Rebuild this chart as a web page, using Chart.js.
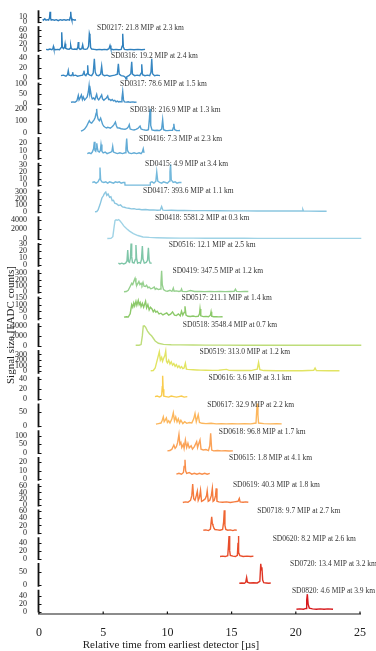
<!DOCTYPE html>
<html>
<head>
<meta charset="utf-8">
<script src="https://cdn.jsdelivr.net/npm/chart.js@4.4.1/dist/chart.umd.min.js"></script>
<style>
  html, body { margin: 0; padding: 0; background: #fff; }
  #wrap { position: relative; width: 376px; height: 651px; }
</style>
</head>
<body>
<div id="wrap"><canvas id="c"></canvas></div>
<script>
// FADC waveforms, one per detector, as [time in µs, signal in FADC counts]
const trace01 = [[0.29,5],[0.35,3],[0.45,6],[0.55,3],[0.65,4],[0.75,3],[0.82,8],[0.86,20],[0.9,7],[0.95,3],[1.05,4],[1.2,3],[1.35,4],[1.5,2],[1.65,4],[1.8,3],[1.95,4],[2.1,3],[2.25,4],[2.38,3],[2.43,9],[2.47,20],[2.51,8],[2.56,3],[2.7,4],[2.8,3],[2.88,4]];
const sd0217 = [[0.55,3],[0.7,2],[0.85,4],[1.0,2],[1.08,5],[1.12,11],[1.16,4],[1.3,2],[1.45,3],[1.6,2],[1.72,8],[1.77,52],[1.82,10],[1.9,5],[1.98,8],[2.03,19],[2.08,6],[2.2,4],[2.35,3],[2.43,6],[2.47,14],[2.52,5],[2.65,3],[2.8,4],[2.95,3],[3.02,9],[3.06,24],[3.1,7],[3.2,3],[3.33,5],[3.4,16],[3.46,4],[3.6,3],[3.75,4],[3.86,12],[3.92,48],[3.97,40],[4.02,8],[4.1,4],[4.3,3],[4.5,2],[4.7,3],[4.9,2],[5.1,3],[5.3,2],[5.45,5],[5.53,14],[5.6,4],[5.8,2],[6.0,3],[6.2,2],[6.4,3],[6.47,12],[6.52,48],[6.57,10],[6.65,3],[6.9,2],[7.1,3],[7.4,2],[7.7,3],[8.0,2],[8.26,3]];
const sd0316 = [[1.71,5],[1.9,6],[2.1,4],[2.22,7],[2.28,15],[2.34,6],[2.5,5],[2.58,7],[2.62,12],[2.67,5],[2.85,6],[3.0,4],[3.2,5],[3.4,6],[3.46,10],[3.5,15],[3.55,7],[3.65,5],[3.74,9],[3.79,26],[3.84,8],[3.95,6],[4.1,5],[4.22,10],[4.31,39],[4.38,12],[4.48,6],[4.65,5],[4.8,8],[4.88,24],[4.95,7],[5.1,5],[5.3,6],[5.5,4],[5.7,5],[5.9,6],[6.1,8],[6.18,29],[6.25,8],[6.4,5],[6.6,4],[6.72,2],[6.78,-2],[6.84,3],[7.0,5],[7.15,9],[7.22,33],[7.28,8],[7.45,5],[7.65,6],[7.85,5],[7.95,10],[8.0,28],[8.06,7],[8.25,5],[8.45,6],[8.62,5],[8.72,12],[8.78,39],[8.84,9],[9.0,5],[9.2,6],[9.42,5]];
const sd0317 = [[2.49,8],[2.65,10],[2.8,8],[2.95,15],[3.06,42],[3.12,20],[3.2,30],[3.3,45],[3.38,22],[3.45,35],[3.55,20],[3.66,28],[3.75,35],[3.84,60],[3.9,92],[3.95,55],[4.0,70],[4.08,38],[4.15,25],[4.25,30],[4.35,22],[4.42,35],[4.49,48],[4.56,27],[4.65,20],[4.75,30],[4.82,38],[4.88,45],[4.95,25],[5.05,18],[5.15,25],[5.25,30],[5.35,40],[5.42,22],[5.5,23],[5.6,17],[5.7,22],[5.8,15],[5.9,18],[6.0,10],[6.1,14],[6.2,10],[6.3,12],[6.4,10],[6.46,30],[6.52,62],[6.58,20],[6.65,10],[6.8,9],[6.95,11],[7.1,8],[7.3,10],[7.45,8],[7.6,9]];
const sd0318 = [[3.27,12],[3.4,18],[3.55,30],[3.7,52],[3.8,75],[3.92,100],[4.0,85],[4.1,80],[4.2,95],[4.3,110],[4.38,130],[4.45,164],[4.49,200],[4.53,150],[4.6,115],[4.7,100],[4.8,122],[4.88,95],[4.95,70],[5.05,53],[5.15,45],[5.25,39],[5.35,45],[5.45,42],[5.55,38],[5.65,45],[5.75,55],[5.85,70],[5.95,89],[6.02,60],[6.1,40],[6.25,39],[6.4,33],[6.55,30],[6.7,28],[6.85,35],[6.97,50],[7.03,67],[7.1,30],[7.25,25],[7.4,22],[7.55,28],[7.7,35],[7.87,55],[7.95,30],[8.1,25],[8.25,22],[8.4,20],[8.52,25],[8.6,120],[8.65,200],[8.7,60],[8.8,22],[9.0,18],[9.2,20],[9.4,17],[9.55,30],[9.63,108],[9.7,25],[9.85,18],[10.0,17],[10.2,19],[10.4,20],[10.45,40],[10.5,75],[10.56,25],[10.7,18],[10.85,17],[10.98,18]];
const sd0416 = [[3.76,6],[3.9,7],[4.05,6],[4.15,8],[4.25,12],[4.31,21],[4.36,10],[4.42,9],[4.46,12],[4.5,19],[4.55,13],[4.6,9],[4.7,8],[4.78,10],[4.83,17.5],[4.9,9],[5.0,7],[5.15,8],[5.3,6],[5.45,7],[5.6,8],[5.68,9],[5.74,15],[5.8,8],[5.95,7],[6.1,6],[6.3,7],[6.5,6],[6.7,7],[6.77,12],[6.83,25],[6.89,10],[7.0,7],[7.2,6],[7.4,7],[7.6,6],[7.8,7],[7.95,6],[8.05,8],[8.12,12],[8.18,7]];
const sd0415 = [[4.15,4],[4.3,5],[4.45,3],[4.6,5],[4.7,9],[4.75,26.5],[4.8,8],[4.9,5],[5.05,4],[5.2,5],[5.35,3],[5.5,5],[5.65,4],[5.8,3],[5.95,5],[6.1,4],[6.25,5],[6.4,3],[6.55,4],[6.68,4],[6.7,0],[7.0,0],[7.5,0],[8.0,0],[8.5,0],[8.65,0],[8.67,4],[8.8,5],[8.95,3],[9.1,6],[9.17,20],[9.25,6],[9.4,4],[9.55,3],[9.7,5],[9.85,4],[10.0,3],[10.15,6],[10.2,20],[10.25,31.5],[10.3,8],[10.45,4],[10.6,5],[10.75,3],[10.9,4],[11.1,4]];
const sd0417 = [[4.36,2],[4.5,5],[4.6,30],[4.75,110],[4.9,210],[5.0,240],[5.1,280],[5.2,300],[5.28,250],[5.38,270],[5.5,220],[5.6,230],[5.7,170],[5.8,175],[5.9,130],[6.05,120],[6.2,95],[6.35,105],[6.5,75],[6.65,70],[6.8,60],[7.0,55],[7.2,45],[7.4,48],[7.6,38],[7.8,40],[8.0,33],[8.3,35],[8.6,28],[8.9,30],[9.2,25],[9.45,28],[9.55,80],[9.65,25],[9.9,22],[10.3,24],[10.8,20],[11.3,22],[12,18],[13,18],[14,16],[15,15],[16,15],[17,14],[18,13],[19,12],[20,12],[20.5,12],[20.55,35],[20.6,12],[21.0,11],[22.0,10],[22.4,10]];
const sd0418 = [[5.32,20],[5.6,40],[5.75,400],[5.85,2500],[5.92,3800],[6.0,4000],[6.1,3900],[6.2,4050],[6.3,3800],[6.45,3300],[6.6,2700],[6.83,2100],[7.05,1600],[7.35,1050],[7.7,650],[8.1,350],[8.6,250],[9.2,180],[10,130],[11,110],[12,90],[13,80],[14,70],[15,65],[16,60],[17,55],[18,55],[19,50],[20,50],[22,45],[24,45],[25.1,45]];
const sd0516 = [[6.18,3],[6.3,2],[6.45,3],[6.6,2],[6.75,3],[6.85,6],[6.91,21],[6.97,5],[7.05,4],[7.12,10],[7.17,30],[7.22,12],[7.28,4],[7.4,3],[7.5,8],[7.55,28],[7.6,10],[7.68,3],[7.8,4],[7.9,3],[7.98,8],[8.05,26.5],[8.1,9],[8.2,3],[8.35,4],[8.45,7],[8.52,24],[8.58,7],[8.65,3],[8.78,3]];
const sd0419 = [[6.62,5],[6.8,10],[6.95,30],[7.1,90],[7.22,140],[7.3,120],[7.4,180],[7.48,220],[7.55,150],[7.62,110],[7.7,140],[7.78,170],[7.86,120],[7.95,140],[8.02,110],[8.1,155],[8.18,95],[8.28,90],[8.38,110],[8.48,70],[8.58,80],[8.7,55],[8.8,60],[8.9,70],[8.98,80],[9.05,45],[9.15,60],[9.3,40],[9.45,50],[9.5,150],[9.55,340],[9.6,120],[9.7,40],[9.85,20],[10.0,15],[10.2,30],[10.35,12],[10.4,30],[10.46,63],[10.52,15],[10.7,20],[10.9,10],[11.05,20],[11.1,47],[11.16,12],[11.5,8],[11.8,25],[12.1,10],[12.5,12],[12.9,8],[13.3,10],[13.7,8],[14.1,10],[14.5,8],[14.9,10],[15.2,12],[15.3,45],[15.38,12],[15.7,8],[16.0,10],[16.3,9]];
const sd0517 = [[6.62,5],[6.8,8],[6.95,6],[7.1,30],[7.22,100],[7.3,80],[7.38,112],[7.45,90],[7.55,125],[7.62,95],[7.73,132],[7.8,100],[7.88,115],[7.95,85],[8.05,110],[8.15,80],[8.3,125],[8.38,75],[8.48,100],[8.58,60],[8.68,80],[8.8,67],[8.9,45],[9.0,60],[9.1,42],[9.2,50],[9.35,30],[9.5,35],[9.65,22],[9.8,30],[9.95,37],[10.1,20],[10.25,28],[10.4,45],[10.55,20],[10.7,18],[10.85,30],[11.0,15],[11.1,50],[11.2,20],[11.3,40],[11.37,87],[11.45,20],[11.6,12],[11.8,10],[12.0,14],[12.2,9],[12.4,12],[12.5,30],[12.54,67],[12.6,15],[12.8,9],[13.0,11],[13.2,8],[13.35,20],[13.4,45],[13.45,12],[13.6,8],[13.8,9],[14.0,7],[14.3,8]];
const sd0518 = [[7.53,50],[7.8,60],[7.95,200],[8.05,2000],[8.12,3930],[8.2,4000],[8.3,3700],[8.45,2930],[8.6,2400],[8.78,1930],[9.05,930],[9.3,470],[9.7,250],[10.3,170],[11,150],[12,120],[13,100],[14,90],[16,80],[18,75],[20,70],[22,70],[25.1,65]];
const sd0519 = [[8.7,10],[8.9,15],[9.05,60],[9.16,160],[9.25,240],[9.37,348],[9.45,200],[9.55,250],[9.62,180],[9.7,230],[9.8,280],[9.87,360],[9.93,180],[10.0,150],[10.1,200],[10.2,130],[10.3,170],[10.4,110],[10.5,140],[10.6,90],[10.7,120],[10.8,70],[10.9,100],[11.0,60],[11.1,85],[11.2,50],[11.3,60],[11.4,146],[11.48,40],[11.6,35],[11.8,30],[12.0,28],[12.3,25],[12.6,22],[13,20],[13.5,18],[14,20],[14.6,35],[14.8,18],[15.5,15],[16.5,14],[17.0,40],[17.1,160],[17.2,30],[17.5,14],[18.5,12],[19.5,12],[20.5,11],[21.4,20],[21.5,60],[21.6,15],[22.5,10],[23.4,10]];
const sd0616 = [[9.03,5],[9.2,6],[9.4,4],[9.55,7],[9.6,25],[9.63,47],[9.67,20],[9.72,6],[9.9,5],[10.1,4],[10.3,6],[10.5,5],[10.7,4],[10.9,5],[11.1,6],[11.3,4],[11.55,5]];
const sd0617 = [[9.11,6],[9.3,8],[9.5,10],[9.6,20],[9.68,32],[9.75,15],[9.85,22],[9.92,28],[10.0,12],[10.1,18],[10.2,10],[10.35,25],[10.46,47],[10.55,18],[10.65,32],[10.75,14],[10.85,25],[10.95,10],[11.05,20],[11.2,8],[11.35,15],[11.5,9],[11.7,12],[11.9,10],[12.05,25],[12.15,44],[12.25,15],[12.4,40],[12.5,12],[12.7,9],[13,8],[13.4,9],[13.8,7],[14.2,8],[14.6,7],[15,8],[15.5,7],[16,8],[16.5,7],[16.9,10],[16.95,50],[17.0,80],[17.05,40],[17.1,10],[17.5,8],[18,7],[18.5,8],[18.9,7]];
const sd0618 = [[10.0,10],[10.2,12],[10.35,20],[10.5,45],[10.6,25],[10.7,35],[10.8,60],[10.9,108],[10.97,50],[11.05,60],[11.12,30],[11.24,49],[11.3,25],[11.4,75],[11.5,30],[11.6,55],[11.7,28],[11.85,40],[11.95,20],[12.1,35],[12.28,65],[12.35,30],[12.45,55],[12.54,75],[12.62,20],[12.8,15],[13.0,18],[13.2,12],[13.3,40],[13.37,114],[13.45,15],[13.6,10],[13.9,12],[14.2,10],[14.5,11],[14.8,9],[15.1,10]];
const sd0615 = [[10.7,6],[10.9,7],[11.1,6],[11.25,8],[11.3,15],[11.37,23],[11.42,10],[11.5,7],[11.7,8],[11.9,6],[12.1,7],[12.3,6],[12.5,7],[12.7,6],[12.9,7],[13.1,6],[13.3,7]];
const sd0619 = [[11.2,8],[11.4,10],[11.6,9],[11.8,15],[11.9,30],[11.97,67],[12.05,20],[12.15,15],[12.25,30],[12.33,44],[12.4,15],[12.5,25],[12.58,47],[12.66,12],[12.8,15],[12.95,20],[13.05,30],[13.1,45],[13.18,12],[13.3,15],[13.42,30],[13.5,53],[13.56,12],[13.65,15],[13.75,30],[13.8,53],[13.86,12],[14.0,10],[14.3,9],[14.6,10],[14.9,8],[15.2,10],[15.5,12],[15.6,21],[15.66,10],[15.9,9],[16.1,10],[16.3,9]];
const sd0718 = [[12.8,7],[13.0,8],[13.2,6],[13.35,10],[13.45,44],[13.5,25],[13.55,20],[13.6,15],[13.7,9],[13.9,8],[14.1,7],[14.3,9],[14.38,30],[14.43,62],[14.48,20],[14.55,9],[14.7,7],[14.9,8],[15.1,6],[15.25,8],[15.4,7]];
const sd0620 = [[14.1,5],[14.3,6],[14.5,5],[14.7,7],[14.75,30],[14.8,57],[14.85,20],[14.9,8],[15.1,6],[15.3,5],[15.45,8],[15.5,40],[15.52,57],[15.57,15],[15.65,7],[15.9,5],[16.2,6],[16.5,5],[16.7,6]];
const sd0720 = [[15.6,8],[15.8,9],[16.0,8],[16.1,12],[16.17,30],[16.23,12],[16.4,9],[16.7,10],[17.0,9],[17.2,15],[17.27,83],[17.32,60],[17.36,70],[17.42,20],[17.5,10],[17.7,9],[17.9,8],[18.05,9]];
const sd0820 = [[20.05,7],[20.3,8],[20.6,7],[20.8,9],[20.85,30],[20.9,45],[20.96,20],[21.05,10],[21.3,8],[21.6,7],[21.9,8],[22.2,7],[22.5,8],[22.9,7]];

// panels from top to bottom
const traces = [trace01, sd0217, sd0316, sd0317, sd0318, sd0416, sd0415, sd0417, sd0418, sd0516, sd0419,
  sd0517, sd0518, sd0519, sd0616, sd0617, sd0618, sd0615, sd0619, sd0718, sd0620, sd0720, sd0820];
const detectorNames = [null, 'SD0217', 'SD0316', 'SD0317', 'SD0318', 'SD0416', 'SD0415', 'SD0417', 'SD0418', 'SD0516', 'SD0419',
  'SD0517', 'SD0518', 'SD0519', 'SD0616', 'SD0617', 'SD0618', 'SD0615', 'SD0619', 'SD0718', 'SD0620', 'SD0720', 'SD0820'];
const mipValues = [null, 21.8, 19.2, 78.6, 216.9, 7.3, 4.9, 393.6, 5581.2, 12.1, 347.5,
  211.1, 3548.4, 313.0, 3.6, 32.9, 96.8, 1.8, 40.3, 9.7, 8.2, 13.4, 4.6];
const coreDistances = [null, 2.3, 2.4, 1.5, 1.3, 2.3, 3.4, 1.1, 0.3, 2.5, 1.2,
  1.4, 0.7, 1.2, 3.1, 2.2, 1.7, 4.1, 1.8, 2.7, 2.6, 3.2, 3.9];

// per-panel y ranges and tick labels
const axisMin = [-6, -8.6, -6, -15, -25, -3.75, -4.5, -45, -632, -4.1, -47,
  -30, -600, -70, -6, -10.7, -17.6, -3.5, -9.5, -8.2, -7.5, -11.5, -5];
const axisMax = [26, 74, 50, 115, 217, 28.75, 36, 360, 5053, 32.7, 379,
  172, 4800, 406, 48, 85.7, 141, 28, 72.6, 68, 57.5, 92, 60];
const tickValues = [[0,10],[0,20,40,60],[0,20,40],[0,50,100],[0,100,200],[0,10,20],[0,10,20,30],[0,100,200,300],[0,2000,4000],[0,10,20,30],[0,100,200,300],
  [0,50,100,150],[0,2000,4000],[0,100,200,300],[0,20,40],[0,50],[0,50,100],[0,10,20],[0,20,40,60],[0,20,40,60],[0,20,40],[0,50],[0,20,40]];
const xTicks = [0, 5, 10, 15, 20, 25];

// layout: relative panel heights, caption start times (µs)
const panelHeights = [16, 29, 28, 26, 29, 26, 27, 27, 27, 27, 27, 27, 27, 27, 27, 27, 27, 27, 26, 28, 26, 27, 26];
const labelStart = [null, 4.52, 5.61, 6.31, 7.09, 7.79, 8.26, 8.10, 9.03, 10.1, 10.4,
  11.1, 11.2, 12.5, 13.2, 13.1, 14.0, 14.8, 15.1, 17.0, 18.2, 19.55, 19.7];
const lineColors = ['#2b7bba', '#2f80bd', '#3787c2', '#4592c9', '#54a0d0', '#63acd6', '#74b9dc', '#8ac6e0', '#9fd3e6', '#7fc6a8', '#96d08e',
  '#8cc96a', '#bedd7a', '#e2e463', '#f9cc4e', '#fcb65c', '#fba257', '#f98e4a', '#f57b3e', '#ef6533', '#e84d2b', '#df3524', '#d7191c'];

const SERIF = '"Liberation Serif", "Times New Roman", serif';

const scales = {
  x: {
    type: 'linear', position: 'bottom', min: 0, max: 25,
    grid: { display: false },
    border: { display: true, color: '#8c8c8c', width: 2 },
    afterBuildTicks: s => { s.ticks = xTicks.map(v => ({ value: v })); },
    afterFit: s => { s.height = 37; },
    ticks: { font: { family: SERIF, size: 12 }, color: '#222', padding: 4, maxRotation: 0, autoSkip: false }
  }
};
// scales added bottom-first so the first trace sits at the top of the stack
for (let i = traces.length - 1; i >= 0; i--) {
  scales['y' + i] = {
    type: 'linear', position: 'left', stack: 'panels', stackWeight: panelHeights[i],
    min: axisMin[i], max: axisMax[i], offset: false,
    grid: { display: false }, border: { display: false },
    afterBuildTicks: s => { s.ticks = tickValues[i].map(v => ({ value: v })); },
    afterFit: s => { s.width = 39; },
    ticks: { font: { family: SERIF, size: 8 }, color: '#222', padding: 4, autoSkip: false, callback: v => String(v) }
  };
}

const datasets = traces.map((pts, i) => ({
  data: pts.map(([t, v]) => ({ x: t, y: v })),
  xAxisID: 'x', yAxisID: 'y' + i,
  borderColor: lineColors[i], borderWidth: 1.4,
  pointRadius: 0, tension: 0, fill: false, clip: false
}));

const panelDecor = {
  id: 'panelDecor',
  afterDraw(chart) {
    const ctx = chart.ctx;
    const xs = chart.scales.x;
    const left = chart.chartArea.left;
    ctx.save();
    // panel spines with inward ticks
    ctx.strokeStyle = '#111';
    for (let i = 0; i < traces.length; i++) {
      const s = chart.scales['y' + i];
      ctx.lineWidth = 1.8;
      ctx.beginPath();
      ctx.moveTo(left - 0.5, s.top + 1.5);
      ctx.lineTo(left - 0.5, s.bottom - 1.5);
      ctx.stroke();
      ctx.lineWidth = 1;
      s.ticks.forEach(tk => {
        const y = Math.round(s.getPixelForValue(tk.value)) + 0.5;
        ctx.beginPath(); ctx.moveTo(left, y); ctx.lineTo(left + 2.5, y); ctx.stroke();
      });
    }
    // small ticks on the time axis
    ctx.lineWidth = 1.2;
    xs.ticks.forEach(tk => {
      const x = xs.getPixelForValue(tk.value);
      ctx.beginPath(); ctx.moveTo(x, xs.top - 2.5); ctx.lineTo(x, xs.top); ctx.stroke();
    });
    // detector captions
    ctx.font = '7.5px ' + SERIF;
    ctx.fillStyle = '#333';
    ctx.textAlign = 'left';
    ctx.textBaseline = 'middle';
    for (let i = 1; i < traces.length; i++) {
      const s = chart.scales['y' + i];
      const text = detectorNames[i] + ': ' + mipValues[i].toFixed(1) + ' MIP at ' + coreDistances[i].toFixed(1) + ' km';
      ctx.fillText(text, xs.getPixelForValue(labelStart[i]), s.top + 3);
    }
    // axis titles
    ctx.fillStyle = '#222';
    ctx.font = '11px ' + SERIF;
    ctx.textAlign = 'center';
    ctx.fillText('Relative time from earliest detector [\u00b5s]', 171, chart.height - 6);
    ctx.translate(11, 325);
    ctx.rotate(-Math.PI / 2);
    ctx.fillText('Signal size [FADC counts]', 0, 0);
    ctx.restore();
  }
};

new Chart(document.getElementById('c'), {
  type: 'line',
  data: { datasets },
  options: {
    responsive: true, maintainAspectRatio: false, animation: false,
    layout: { padding: { top: 3, right: 16, bottom: 0, left: 0 } },
    plugins: { legend: { display: false }, tooltip: { enabled: false } },
    scales
  },
  plugins: [panelDecor]
});
</script>
</body>
</html>
